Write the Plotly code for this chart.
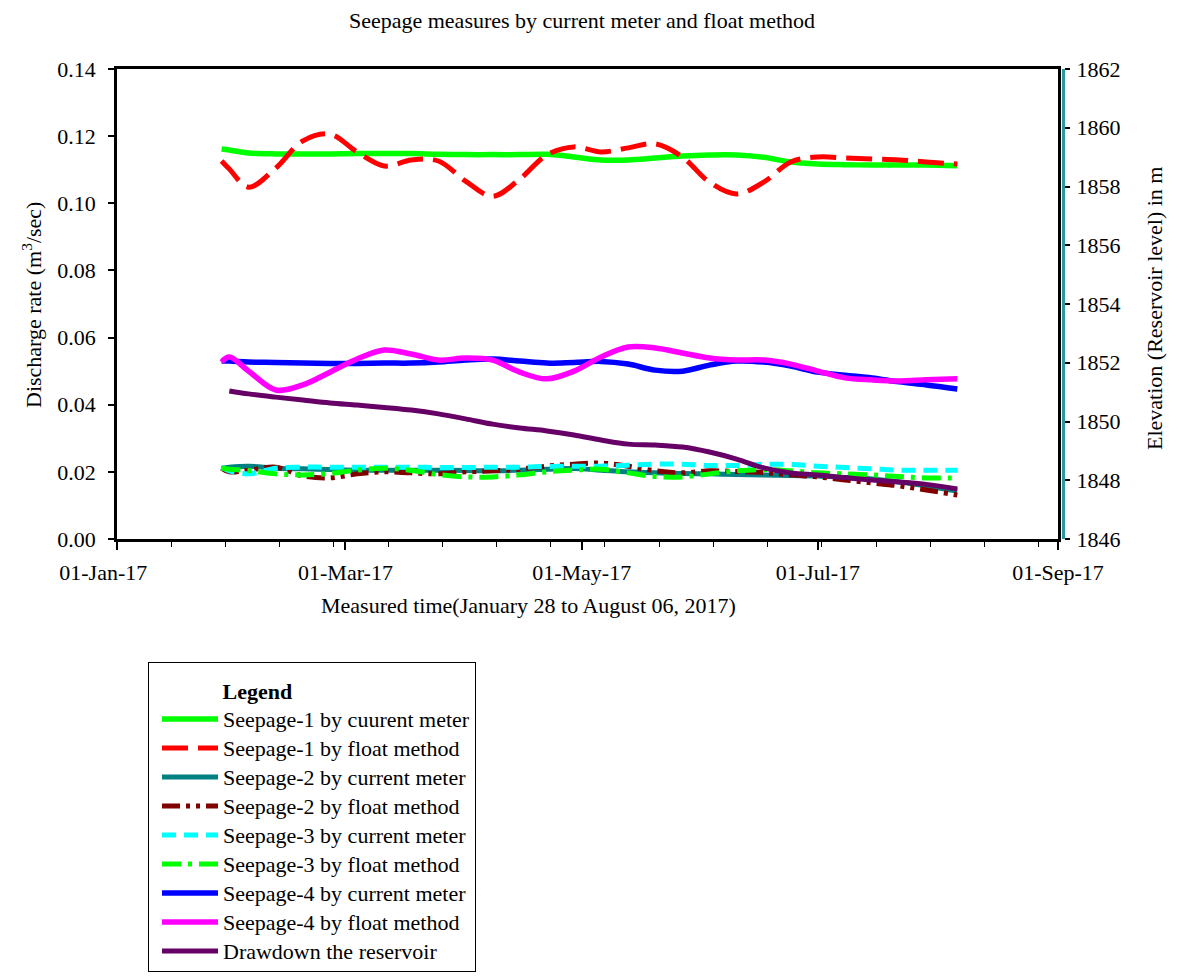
import plotly.graph_objects as go

# ---- data ----
dates = ["2017-01-28", "2017-01-30", "2017-02-04", "2017-02-11", "2017-02-18", "2017-02-25",
         "2017-03-04", "2017-03-11", "2017-03-18", "2017-03-25", "2017-04-01", "2017-04-08",
         "2017-04-15", "2017-04-22", "2017-04-29", "2017-05-06", "2017-05-13", "2017-05-20",
         "2017-05-27", "2017-06-03", "2017-06-10", "2017-06-17", "2017-06-24", "2017-07-01",
         "2017-07-08", "2017-07-15", "2017-07-22", "2017-07-29", "2017-08-06"]

s1_current = [0.1162, 0.1159, 0.1150, 0.1147, 0.1147, 0.1147, 0.1148, 0.1148, 0.1148, 0.1146,
              0.1145, 0.1145, 0.1145, 0.1146, 0.1138, 0.1129, 0.1129, 0.1135, 0.1141, 0.1144,
              0.1144, 0.1137, 0.1123, 0.1117, 0.1115, 0.1114, 0.1114, 0.1114, 0.1112]
s1_float = [0.1126, 0.1102, 0.1048, 0.1105, 0.1186, 0.1206, 0.1153, 0.1111, 0.1129, 0.1126,
            0.1066, 0.1021, 0.1072, 0.1144, 0.1168, 0.1153, 0.1165, 0.1177, 0.1138, 0.1063,
            0.1028, 0.1063, 0.1123, 0.1138, 0.1135, 0.1132, 0.1129, 0.1123, 0.1117]
s2_current = [0.0211, 0.0214, 0.0217, 0.0211, 0.0209, 0.0207, 0.0205, 0.0205, 0.0205, 0.0205,
              0.0204, 0.0203, 0.0205, 0.0208, 0.0210, 0.0205, 0.0200, 0.0197, 0.0195, 0.0194,
              0.0192, 0.0191, 0.0189, 0.0188, 0.0183, 0.0179, 0.0170, 0.0158, 0.0143]
s2_float = [0.0211, 0.0200, 0.0205, 0.0214, 0.0188, 0.0182, 0.0194, 0.0200, 0.0197, 0.0194,
            0.0200, 0.0203, 0.0208, 0.0217, 0.0223, 0.0226, 0.0217, 0.0203, 0.0197, 0.0203,
            0.0201, 0.0198, 0.0191, 0.0185, 0.0176, 0.0167, 0.0158, 0.0146, 0.0131]
s3_current = [0.0214, 0.0203, 0.0194, 0.0211, 0.0214, 0.0214, 0.0214, 0.0214, 0.0214, 0.0213,
              0.0213, 0.0214, 0.0214, 0.0216, 0.0217, 0.0217, 0.0220, 0.0223, 0.0223, 0.0219,
              0.0219, 0.0222, 0.0222, 0.0217, 0.0213, 0.0209, 0.0205, 0.0205, 0.0205]
s3_float = [0.0211, 0.0208, 0.0204, 0.0194, 0.0191, 0.0195, 0.0205, 0.0211, 0.0204, 0.0192,
            0.0185, 0.0185, 0.0191, 0.0200, 0.0205, 0.0208, 0.0197, 0.0186, 0.0185, 0.0194,
            0.0203, 0.0207, 0.0203, 0.0197, 0.0194, 0.0191, 0.0186, 0.0182, 0.0182]
s4_current = [0.0530, 0.0530, 0.0527, 0.0526, 0.0524, 0.0523, 0.0523, 0.0524, 0.0524, 0.0527,
              0.0533, 0.0536, 0.0530, 0.0524, 0.0526, 0.0529, 0.0521, 0.0503, 0.0500, 0.0518,
              0.0530, 0.0527, 0.0515, 0.0497, 0.0488, 0.0480, 0.0468, 0.0459, 0.0447]
s4_float = [0.0527, 0.0542, 0.0500, 0.0444, 0.0459, 0.0497, 0.0536, 0.0563, 0.0551, 0.0533,
            0.0539, 0.0533, 0.0497, 0.0477, 0.0500, 0.0542, 0.0572, 0.0569, 0.0554, 0.0539,
            0.0533, 0.0533, 0.0521, 0.0500, 0.0480, 0.0474, 0.0471, 0.0474, 0.0477]
drawdown = [None, 1851.04, 1850.94, 1850.83, 1850.73, 1850.63, 1850.56, 1850.48, 1850.39, 1850.26,
            1850.09, 1849.91, 1849.78, 1849.68, 1849.54, 1849.37, 1849.23, 1849.20, 1849.13, 1848.96,
            1848.72, 1848.42, 1848.25, 1848.18, 1848.09, 1848.01, 1847.94, 1847.86, 1847.70]

names = ["Seepage-1 by cuurent meter", "Seepage-1 by float method",
         "Seepage-2 by current meter", "Seepage-2 by float method",
         "Seepage-3 by current meter", "Seepage-3 by float method",
         "Seepage-4 by current meter", "Seepage-4 by float method",
         "Drawdown the reservoir"]
x_tick_vals = ["2017-01-01", "2017-03-01", "2017-05-01", "2017-07-01", "2017-09-01"]
x_tick_labels = ["01-Jan-17", "01-Mar-17", "01-May-17", "01-Jul-17", "01-Sep-17"]

series = [s1_current, s1_float, s2_current, s2_float, s3_current, s3_float,
          s4_current, s4_float, drawdown]
colors = ["#00ff00", "#ff0000", "#008080", "#800000", "#00ffff", "#00ff00",
          "#0000ff", "#ff00ff", "#660066"]
dashes = ["solid", "26px,10px", "solid", "18px,6px,4px,6px,4px,6px", "14px,8px",
          "19px,7px,4px,7px", "solid", "solid", "solid"]
widths = [5.5, 5, 5, 5, 5, 5, 5.5, 5.5, 5]

FONT = "Liberation Serif, Times New Roman, serif"

# page body has an 8px margin; the figure is sized/offset to compensate
W, H = 1171, 968
L, T = 109, 61            # plot-area left / top inside the figure
PR, PB = 1055, 531        # paper right edge (teal axis) / plot bottom inside the figure
PW, PH = PR - L, PB - T   # paper width / plot height


def px(xpage):
    return (xpage - 8 - L) / PW


def py(ypage):
    return (PB - (ypage - 8)) / PH


fig = go.Figure()
for i, (nm, ys) in enumerate(zip(names, series)):
    fig.add_trace(go.Scatter(
        x=dates, y=ys, name="<span style='font-size:22px'>" + nm + "</span>", mode="lines",
        line=dict(color=colors[i], dash=dashes[i], width=widths[i], shape="spline", smoothing=1.0),
        yaxis="y2" if i == 8 else "y",
    ))

tick_text = [x_tick_labels[0] + "\u00a0" * 5] + x_tick_labels[1:]

fig.update_layout(
    width=W, height=H, autosize=False,
    margin=dict(l=L, r=W - PR, t=T, b=H - PB, pad=0, autoexpand=False),
    paper_bgcolor="white", plot_bgcolor="white",
    font=dict(family=FONT, size=22, color="black"),
    title=dict(text="Seepage measures by current meter and float method",
               x=(582 - 8) / W, xanchor="center", y=1 - (20 - 8) / H, yanchor="middle",
               font=dict(family=FONT, size=22, color="black")),
    xaxis=dict(type="date", range=["2017-01-01", "2017-09-01"], domain=[0, (1058 - 8 - L) / PW],
               tickmode="array", tickvals=x_tick_vals, ticktext=tick_text,
               ticks="outside", ticklen=8, tickwidth=1.5, tickcolor="black",
               showline=True, linecolor="black", linewidth=2.5, mirror=True,
               showgrid=False, zeroline=False, ticklabelstandoff=4, automargin=False,
               minor=dict(dtick=14 * 86400000, tick0="2017-01-01", ticks="outside",
                          ticklen=5, tickwidth=1, tickcolor="black", showgrid=False)),
    yaxis=dict(range=[0, 0.14], dtick=0.02, tickformat=".2f",
               ticks="outside", ticklen=6, tickwidth=1.5, tickcolor="black",
               showline=True, linecolor="black", linewidth=2.5, mirror=True,
               showgrid=False, zeroline=False, ticklabelstandoff=8, automargin=False),
    yaxis2=dict(overlaying="y", side="right", anchor="free", position=1,
                range=[1846, 1862], dtick=2,
                ticks="outside", ticklen=5, tickwidth=1.5, tickcolor="black",
                showline=True, linecolor="#2a9a9a", linewidth=3,
                showgrid=False, zeroline=False, ticklabelstandoff=2, automargin=False),
    legend=dict(x=px(148), y=py(662), xanchor="left", yanchor="top",
                bordercolor="black", borderwidth=1, bgcolor="white",
                font=dict(family=FONT, size=20, color="black"),
                title=dict(text="<span style='font-size:22px'>" + "\u00a0" * 13
                                + "<b>Legend</b></span>",
                           font=dict(family=FONT, size=28, color="black")),
                itemwidth=56, tracegroupgap=0, indentation=8),
    showlegend=True,
    annotations=[
        dict(text="Measured time(January 28 to August 06, 2017)", xref="paper", yref="paper",
             x=px(528), y=py(605), xanchor="center", yanchor="middle",
             showarrow=False, font=dict(family=FONT, size=22, color="black")),
        dict(text="Discharge rate (m<sup>3</sup>/sec)", xref="paper", yref="paper",
             x=px(32), y=py(305), xanchor="center", yanchor="middle",
             textangle=-90, showarrow=False, font=dict(family=FONT, size=22, color="black")),
        dict(text="Elevation (Reservoir level) in m", xref="paper", yref="paper",
             x=px(1154), y=py(309), xanchor="center", yanchor="middle",
             textangle=-90, showarrow=False, font=dict(family=FONT, size=22, color="black")),
    ],
)

fig.write_html("out.html")
